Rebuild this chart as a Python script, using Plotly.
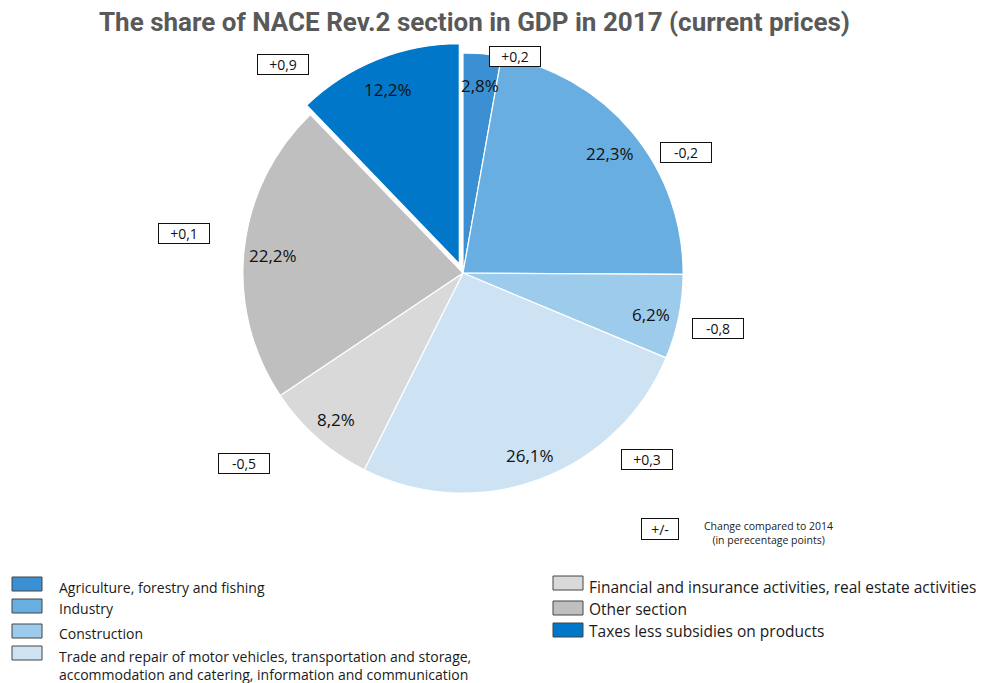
import math
import plotly.graph_objects as go

categories = [
    "Agriculture, forestry and fishing",
    "Industry",
    "Construction",
    "Trade and repair of motor vehicles, transportation and storage,<br>accommodation and catering, information and communication",
    "Financial and insurance activities, real estate activities",
    "Other section",
    "Taxes less subsidies on products",
]
shares = [2.8, 22.3, 6.2, 26.1, 8.2, 22.2, 12.2]
changes = ["+0,2", "-0,2", "-0,8", "+0,3", "-0,5", "+0,1", "+0,9"]
colors = ["#3a90d2", "#68aee0", "#9dcbec", "#cde3f3", "#d9d9d9", "#bfbfbf", "#0077c8"]
pulls = [0, 0, 0, 0, 0, 0, 0.045]

# page has an 8px body margin; figure is sized to fit the window
OFF = 8
W, H = 992 - OFF, 683 - OFF
FONT = "Open Sans"


def X(px):
    return (px - OFF) / W


def Y(py):
    return 1 - (py - OFF) / H


def fmt(v):
    return f"{v:.1f}%".replace(".", ",")


fig = go.Figure()
cx, cy, R = 463, 273, 230  # screen pixels: pie centre and domain half-size
fig.add_trace(go.Pie(
    labels=categories, values=shares,
    textinfo="none", sort=False, direction="clockwise", rotation=0, pull=pulls,
    marker=dict(colors=colors, line=dict(color="white", width=1.2)),
    domain=dict(x=[X(cx - R), X(cx + R)], y=[Y(cy + R), Y(cy - R)]),
    showlegend=False, hovertemplate="%{label}: %{value}%<extra></extra>",
))

annotations = []
# percentage labels placed along each slice's mid-angle
r_pie = R / (1 + max(pulls))
total = sum(shares)
cum = 0
for v, p in zip(shares, pulls):
    mid = (cum + v / 2) / total * 2 * math.pi
    cum += v
    rr = r_pie * (0.87 + p)
    px = cx + rr * math.sin(mid)
    py = cy - rr * math.cos(mid) + 3
    annotations.append(dict(x=X(px), y=Y(py), xref="paper", yref="paper", text=fmt(v),
                            showarrow=False, font=dict(family=FONT, size=17, color="#111"),
                            xanchor="center", yanchor="middle"))

# change boxes (positions in screen pixels)
box_pos = [(515, 57), (686, 152), (718, 329), (647, 460), (244, 463), (184, 234), (283, 65)]
for ch, (px, py) in zip(changes, box_pos):
    annotations.append(dict(x=X(px), y=Y(py), xref="paper", yref="paper", text=ch,
                            showarrow=False, font=dict(family=FONT, size=14, color="#111"),
                            bordercolor="#111", borderwidth=1, borderpad=2, bgcolor="white",
                            width=46, height=15, xanchor="center", yanchor="middle"))
annotations.append(dict(x=X(660), y=Y(529), xref="paper", yref="paper", text="+/-",
                        showarrow=False, font=dict(family=FONT, size=14, color="#111"),
                        bordercolor="#111", borderwidth=1, borderpad=2, width=32, height=16,
                        xanchor="center", yanchor="middle"))
annotations.append(dict(x=X(768), y=Y(533), xref="paper", yref="paper",
                        text="Change compared to 2014<br>(in perecentage points)",
                        showarrow=False, font=dict(family=FONT, size=10.5, color="#222"),
                        xanchor="center", yanchor="middle", align="center"))
annotations.append(dict(x=X(474), y=Y(22), xref="paper", yref="paper",
                        text="<b>The share of NACE Rev.2 section in GDP in 2017 (current prices)</b>",
                        showarrow=False, font=dict(family="Roboto", size=26, color="#595959"),
                        xanchor="center", yanchor="middle"))

# manual legend: (swatch x, swatch centre y, text x, text centre y, font size)
shapes = []
leg = [
    (12, 584, 57, 587, 14), (12, 606, 57, 608, 14), (12, 631, 57, 633, 14), (12, 653, 57, 665, 14),
    (553, 583, 587, 587, 15.5), (553, 608, 587, 609, 15.5), (553, 630, 587, 631, 15.5),
]
for (sx, sy, tx, ty, fs), name, col in zip(leg, categories, colors):
    shapes.append(dict(type="rect", xref="paper", yref="paper",
                       x0=X(sx), x1=X(sx + 30), y0=Y(sy - 7), y1=Y(sy + 7),
                       fillcolor=col, line=dict(color="#444", width=1)))
    annotations.append(dict(x=X(tx), y=Y(ty), xref="paper", yref="paper", text=name,
                            showarrow=False, font=dict(family=FONT, size=fs, color="#1a1a1a"),
                            xanchor="left", yanchor="middle", align="left"))

fig.update_layout(
    width=W, height=H, margin=dict(l=0, r=0, t=0, b=0),
    paper_bgcolor="white", plot_bgcolor="white",
    annotations=annotations, shapes=shapes,
)
fig.write_html("out.html")
